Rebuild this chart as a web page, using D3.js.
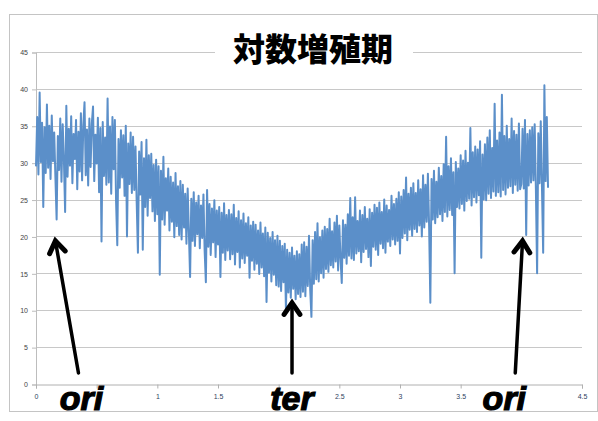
<!DOCTYPE html>
<html lang="ja">
<head>
<meta charset="UTF-8">
<title>対数増殖期</title>
<script src="https://d3js.org/d3.v7.min.js"></script>
<style>
  body { margin: 0; background: #fff; }
  svg { display: block; }
  .tick text { font-family: "Liberation Sans", Arial, sans-serif; }
</style>
</head>
<body>
<div id="chart"></div>
<script>
// x step of the sampled series (position along the genome, Mb)
const xStep = 0.01;

// series values in rows of 0.2
const yValues = [
  29.5, 36.2, 28.4, 39.5, 30.1, 35.4, 24.0, 34.8, 28.6, 37.9, 29.3, 35.0, 27.8, 36.4, 30.2, 34.1, 28.0, 22.3, 33.6, 29.0,
  36.0, 27.4, 35.2, 30.4, 23.3, 37.7, 28.1, 34.6, 29.6, 36.3, 27.2, 33.9, 30.5, 35.8, 26.4, 34.2, 28.8, 36.7, 27.6, 35.1,
  38.2, 28.3, 34.5, 26.9, 36.0, 29.4, 35.3, 37.6, 27.5, 33.8, 29.9, 36.1, 26.0, 34.7, 19.3, 35.5, 28.2, 33.4, 27.0, 38.7,
  27.3, 34.9, 25.8, 36.2, 29.1, 35.8, 24.7, 18.8, 33.2, 26.6, 34.4, 28.0, 33.7, 25.5, 35.0, 20.0, 32.6, 27.1, 34.1, 25.9,
  33.5, 26.3, 32.2, 24.5, 17.8, 31.5, 25.7, 32.8, 18.2, 30.6, 24.0, 33.1, 22.8, 31.0, 25.2, 31.2, 23.4, 29.7, 22.1, 30.4,
  23.0, 29.5, 14.8, 28.9, 22.3, 30.8, 21.6, 27.9, 23.5, 29.2, 20.8, 28.1, 22.0, 27.3, 19.9, 28.6, 21.4, 26.8, 20.2, 27.5,
  19.6, 27.0, 21.2, 25.8, 19.0, 26.5, 20.6, 14.5, 25.1, 19.4, 26.0, 18.7, 24.6, 20.3, 25.5, 18.4, 24.2, 19.8, 25.7, 18.0,
  13.8, 26.3, 18.6, 24.4, 17.5, 23.8, 19.2, 24.9, 17.2, 23.5, 18.9, 24.0, 14.5, 23.2, 17.8, 24.5, 16.8, 22.9, 18.1, 23.6,
  16.9, 23.0, 17.6, 24.3, 16.2, 22.5, 17.9, 23.4, 15.8, 22.2, 17.0, 23.1, 16.4, 21.8, 17.4, 22.6, 14.4, 21.5, 16.7, 22.0,
  15.5, 21.6, 16.3, 20.8, 14.9, 21.9, 15.8, 20.4, 14.6, 21.2, 11.1, 20.5, 15.1, 19.8, 13.9, 20.6, 14.8, 19.5, 13.4, 20.1,
  13.2, 19.4, 12.6, 18.7, 13.8, 19.0, 10.0, 18.2, 12.4, 17.8, 11.7, 18.5, 12.9, 17.4, 11.5, 18.0, 12.2, 17.6, 11.8, 18.9,
  12.5, 19.2, 11.9, 18.6, 13.3, 20.1, 12.8, 9.1, 19.5, 13.6, 20.6, 14.2, 21.8, 13.9, 19.9, 15.0, 20.8, 14.4, 21.3, 15.6,
  21.0, 15.2, 22.4, 16.1, 20.7, 15.8, 21.9, 16.6, 22.8, 15.4, 21.5, 16.9, 13.7, 22.2, 17.1, 21.6, 16.3, 23.0, 17.4, 25.2,
  17.0, 22.6, 16.8, 25.3, 17.7, 22.1, 18.0, 23.5, 16.5, 22.9, 17.9, 24.0, 18.3, 22.4, 17.2, 23.7, 16.0, 23.2, 18.6, 24.3,
  18.2, 23.9, 17.5, 24.6, 19.0, 23.3, 18.4, 25.0, 17.8, 24.2, 19.3, 23.6, 18.7, 25.5, 19.6, 24.4, 18.9, 25.1, 19.4, 26.0,
  17.7, 25.4, 19.8, 26.3, 20.4, 28.0, 19.5, 25.8, 20.9, 26.6, 20.1, 27.2, 21.0, 25.9, 20.6, 27.6, 21.5, 26.4, 20.0, 28.3,
  21.2, 27.0, 22.0, 28.5, 21.4, 11.0, 27.8, 22.3, 28.9, 21.8, 27.4, 22.6, 29.3, 23.0, 28.2, 22.1, 29.8, 23.3, 33.5, 22.7,
  29.5, 23.6, 30.6, 22.9, 28.7, 15.0, 30.1, 24.0, 29.2, 23.8, 31.0, 24.4, 30.3, 23.5, 31.6, 24.8, 30.0, 25.1, 34.7, 24.2,
  31.4, 25.3, 32.2, 24.6, 31.8, 25.6, 32.9, 17.1, 31.1, 25.0, 32.5, 24.9, 33.4, 25.8, 34.4, 25.2, 32.0, 26.1, 38.0, 25.5,
  33.0, 26.0, 34.1, 25.4, 39.2, 26.3, 33.6, 25.7, 35.0, 26.6, 33.2, 26.8, 36.0, 25.9, 34.3, 27.0, 33.8, 26.2, 35.3, 26.4,
  27.1, 34.6, 26.5, 35.8, 20.2, 33.9, 26.9, 34.4, 27.3, 34.8, 27.6, 35.2, 26.4, 15.0, 34.0, 27.2, 35.6, 26.7, 17.8, 40.5,
  27.5, 36.2, 26.6
];

const xTicks = [0, 0.5, 1, 1.5, 2, 2.5, 3, 3.5, 4, 4.5];
// tick labels that sit under the big annotation words are not visible
const xHidden = [0.5, 2, 4];
const yTicks = [0, 5, 10, 15, 20, 25, 30, 35, 40, 45];

const title = "対数増殖期";
// annotation labels with arrow tail/tip in data units
const notes = [
  { label: "ori", x: 0.375, tail: [0.35, 1.5], tip: [0.16, 19.4] },
  { label: "ter", x: 2.11, tail: [2.11, 1.5], tip: [2.11, 11.0] },
  { label: "ori", x: 3.86, tail: [3.95, 1.5], tip: [4.01, 19.4] }
];

const width = 598, height = 421;
const svg = d3.select("#chart").append("svg")
  .attr("width", width)
  .attr("height", height);

// outer chart frame
svg.append("rect")
  .attr("x", 9.5).attr("y", 14.5)
  .attr("width", 588).attr("height", 397)
  .attr("fill", "#fff")
  .attr("stroke", "#c4c4c4");

const x = d3.scaleLinear().domain([0, 4.5]).range([36, 582]);
const y = d3.scaleLinear().domain([0, 45]).range([384, 52]);

// horizontal gridlines
svg.append("g")
  .selectAll("line")
  .data(yTicks.slice(1))
  .join("line")
    .attr("x1", x(0)).attr("x2", x(4.5))
    .attr("y1", d => Math.round(y(d)) + 0.5)
    .attr("y2", d => Math.round(y(d)) + 0.5)
    .attr("stroke", "#c8c8c8")
    .attr("stroke-width", 1.2);

// y axis
const yAxis = svg.append("g")
  .attr("transform", `translate(${x(0)},0.5)`)
  .call(d3.axisLeft(y).tickValues(yTicks).tickSize(4).tickPadding(4).tickFormat(d3.format("d")));
yAxis.select(".domain").attr("stroke", "#bdbdbd");
yAxis.selectAll(".tick line").attr("stroke", "#bdbdbd");
yAxis.selectAll(".tick text").attr("font-size", 7).attr("fill", "#444");

// x axis
const xAxis = svg.append("g")
  .attr("transform", `translate(0,${Math.round(y(0)) + 0.5})`)
  .call(d3.axisBottom(x).tickValues(xTicks).tickSize(4).tickPadding(6)
    .tickFormat(d => xHidden.includes(d) ? "" : d));
xAxis.select(".domain").attr("stroke", "#b0b0b0");
xAxis.selectAll(".tick line").attr("stroke", "#b0b0b0");
xAxis.selectAll(".tick text").attr("font-size", 7).attr("fill", "#2f3f60");

// the series
svg.append("path")
  .datum(yValues)
  .attr("fill", "none")
  .attr("stroke", "#5b8fc9")
  .attr("stroke-width", 2)
  .attr("stroke-linejoin", "round")
  .attr("d", d3.line()
    .x((d, i) => x(i * xStep))
    .y(d => y(d)));

// title with white box over the top gridline
svg.append("rect")
  .attr("x", 215).attr("y", 40)
  .attr("width", 198).attr("height", 26)
  .attr("fill", "#fff");
svg.append("text")
  .attr("x", 313).attr("y", 61)
  .attr("text-anchor", "middle")
  .attr("font-family", "'Noto Sans CJK JP', 'Noto Sans CJK SC', sans-serif")
  .attr("font-weight", 900)
  .attr("font-size", 32)
  .attr("fill", "#000")
  .text(title);

// arrows
function arrow(g, x1, y1, x2, y2) {
  const a = Math.atan2(y2 - y1, x2 - x1);
  const len = 14, spread = 0.6;
  g.append("line")
    .attr("x1", x1).attr("y1", y1).attr("x2", x2).attr("y2", y2)
    .attr("stroke", "#000").attr("stroke-width", 3.5).attr("stroke-linecap", "round");
  const p1 = [x2 - len * Math.cos(a - spread), y2 - len * Math.sin(a - spread)];
  const p2 = [x2 - len * Math.cos(a + spread), y2 - len * Math.sin(a + spread)];
  g.append("path")
    .attr("d", `M${p1[0]},${p1[1]}L${x2},${y2}L${p2[0]},${p2[1]}`)
    .attr("fill", "none").attr("stroke", "#000")
    .attr("stroke-width", 5).attr("stroke-linecap", "round").attr("stroke-linejoin", "miter");
}

const ann = svg.append("g");
notes.forEach(n => {
  arrow(ann, x(n.tail[0]), y(n.tail[1]), x(n.tip[0]), y(n.tip[1]));
  ann.append("text")
    .attr("x", x(n.x)).attr("y", 410)
    .attr("text-anchor", "middle")
    .attr("font-family", "'Liberation Sans', Arial, sans-serif")
    .attr("font-weight", "bold")
    .attr("font-style", "italic")
    .attr("font-size", 34)
    .attr("fill", "#000")
    .attr("stroke", "#000")
    .attr("stroke-width", 1.2)
    .text(n.label);
});
</script>
</body>
</html>
